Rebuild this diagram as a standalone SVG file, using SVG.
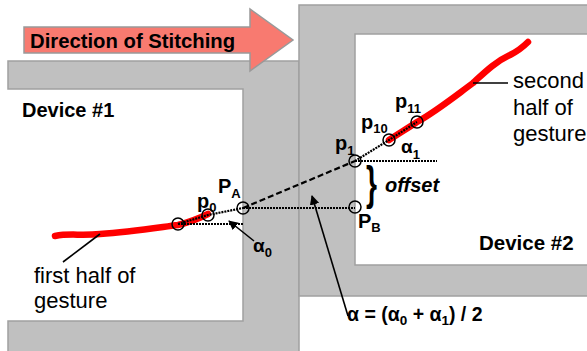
<svg xmlns="http://www.w3.org/2000/svg" width="587" height="351" viewBox="0 0 587 351">
<defs>
<style>
.bez{fill:#c0c0c0;stroke:#a0a0a0;stroke-width:1.5}
.scr{fill:#ffffff;stroke:#a0a0a0;stroke-width:1.5}
.t{font-family:"Liberation Sans",Arial,sans-serif;fill:#000}
.b{font-weight:bold}
.red{fill:none;stroke:#ff0000;stroke-width:6.5;stroke-linecap:round;stroke-linejoin:round}
.dot{fill:none;stroke:#000;stroke-width:2.2;stroke-dasharray:2 1}
.dash{fill:none;stroke:#000;stroke-width:2.2;stroke-dasharray:6 3}
.pt{fill:none;stroke:#000;stroke-width:1.5}
.lead{fill:none;stroke:#000;stroke-width:1.6}
</style>
<marker id="ah" viewBox="0 0 10 10" refX="9" refY="5" markerWidth="6" markerHeight="6" orient="auto" markerUnits="strokeWidth">
<path d="M0,0 L10,5 L0,10 Z" fill="#000"/>
</marker>
</defs>
<rect width="587" height="351" fill="#fff"/>
<g id="device1">
<path class="bez" d="M8,61 H299 V360 H8 V321 H243 V89 H8 Z"/>
<text class="t b" x="22" y="117" font-size="20">Device #1</text>
</g>
<g id="device2">
<path class="bez" d="M299,5 H595 V296 H299 Z"/>
<path class="scr" d="M355,34 H595 V265 H355 Z"/>
<text class="t b" x="479" y="250" font-size="20.5">Device #2</text>
</g>
<g id="direction">
<polygon points="24,27 250,27 250,9 293,40 250,71 250,53 24,53" fill="#f87a70" stroke="#999" stroke-width="1.5"/>
<text class="t b" x="30" y="48" font-size="20.3">Direction of Stitching</text>
</g>
<g id="gesture1">
<path class="red" d="M55,236 C70,233 80,236 100,234 C130,232 155,228 178,225 C190,222 200,218 208,214"/>
</g>
<g id="gesture2">
<path class="red" d="M389,140 C398,134 408,128 417,122 C435,112 450,100 473,83 C485,72 495,62 510,55 C518,51 524,46 528,42"/>
</g>
<g id="connectors">
<path class="dot" d="M178,224 L208,215 L243,208"/>
<path class="dot" d="M178,224 H243"/>
<path class="dot" d="M243,208 H355"/>
<path class="dash" d="M243,208 L355,161"/>
<path class="dot" d="M355,161 L389,140 L417,122"/>
<path class="dot" d="M355,161 H437"/>
<path class="lead" d="M100,234 L63,262"/>
<path class="lead" d="M473,83 H508"/>
<path class="lead" d="M254,241 L229,221" marker-end="url(#ah)"/>
<path class="lead" d="M348,316 L312,196" marker-end="url(#ah)"/>
</g>
<g id="points">
<circle class="pt" cx="178" cy="224" r="6"/>
<circle class="pt" cx="208" cy="215" r="6"/>
<circle class="pt" cx="243" cy="208" r="6"/>
<circle class="pt" cx="355" cy="161" r="6"/>
<circle class="pt" cx="355" cy="207" r="6"/>
<circle class="pt" cx="389" cy="140" r="6"/>
<circle class="pt" cx="417" cy="122" r="6"/>
</g>
<g id="labels">
<text class="t b" x="197" y="208" font-size="20">p<tspan font-size="13" dy="4">0</tspan></text>
<text class="t b" x="218" y="193" font-size="20">P<tspan font-size="13" dy="5">A</tspan></text>
<text class="t b" x="335" y="150" font-size="20">p<tspan font-size="13" dy="5">1</tspan></text>
<text class="t b" x="361" y="129" font-size="20">p<tspan font-size="13" dy="4">10</tspan></text>
<text class="t b" x="395" y="108" font-size="20">p<tspan font-size="13" dy="5">11</tspan></text>
<text class="t b" x="401" y="153" font-size="19">α<tspan font-size="13" dy="6">1</tspan></text>
<text class="t b" x="253" y="252" font-size="19">α<tspan font-size="13" dy="5">0</tspan></text>
<text class="t b" x="358" y="228" font-size="20">P<tspan font-size="13" dy="4">B</tspan></text>
<text class="t b" x="366" y="199" font-size="47" transform="translate(366,186) scale(0.6,1) translate(-366,-186)">}</text>
<text class="t b" x="385" y="192" font-size="20" font-style="italic">offset</text>
<text class="t b" x="347" y="321" font-size="19.5">α = (α<tspan font-size="13.5" dy="4">0</tspan><tspan dy="-4"> + α</tspan><tspan font-size="13.5" dy="4">1</tspan><tspan dy="-4">) / 2</tspan></text>
<text class="t" x="513" y="88" font-size="22">second</text>
<text class="t" x="513" y="115" font-size="22">half of</text>
<text class="t" x="513" y="141" font-size="22">gesture</text>
<text class="t" x="34" y="283" font-size="22">first half of</text>
<text class="t" x="34" y="308" font-size="22">gesture</text>
</g>
</svg>
